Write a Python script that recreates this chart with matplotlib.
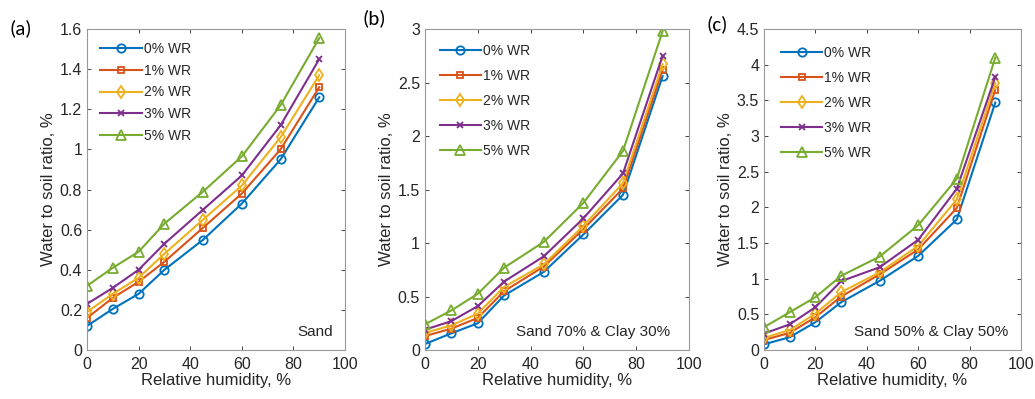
import matplotlib
matplotlib.use("Agg")
import matplotlib.pyplot as plt

# relative humidity points
rh = [0, 10, 20, 30, 45, 60, 75, 90]
labels = ["0% WR", "1% WR", "2% WR", "3% WR", "5% WR"]

# (a) Sand
sand = [
    [0.12, 0.205, 0.28, 0.40, 0.55, 0.73, 0.95, 1.26],
    [0.16, 0.26, 0.34, 0.44, 0.61, 0.78, 1.00, 1.31],
    [0.19, 0.28, 0.36, 0.48, 0.65, 0.82, 1.06, 1.37],
    [0.23, 0.31, 0.40, 0.53, 0.70, 0.87, 1.12, 1.45],
    [0.32, 0.41, 0.49, 0.63, 0.79, 0.965, 1.22, 1.555],
]
# (b) Sand 70% & Clay 30%
sand70 = [
    [0.056, 0.156, 0.25, 0.51, 0.73, 1.08, 1.45, 2.56],
    [0.13, 0.20, 0.30, 0.55, 0.78, 1.13, 1.51, 2.62],
    [0.16, 0.23, 0.34, 0.59, 0.80, 1.16, 1.56, 2.67],
    [0.19, 0.27, 0.41, 0.64, 0.875, 1.23, 1.65, 2.75],
    [0.24, 0.37, 0.525, 0.77, 1.01, 1.375, 1.86, 2.98],
]
# (c) Sand 50% & Clay 50%
sand50 = [
    [0.08, 0.18, 0.39, 0.67, 0.97, 1.32, 1.83, 3.47],
    [0.14, 0.24, 0.46, 0.75, 1.06, 1.41, 1.99, 3.65],
    [0.17, 0.28, 0.51, 0.81, 1.09, 1.46, 2.11, 3.74],
    [0.23, 0.36, 0.60, 0.965, 1.16, 1.545, 2.26, 3.83],
    [0.32, 0.53, 0.74, 1.04, 1.31, 1.75, 2.40, 4.10],
]

colors = ["#0072BD", "#D95319", "#EDB120", "#7E2F8E", "#77AC30"]
markers = ["o", "s", "d", "x", "^"]
msizes = [6, 5, 6, 5, 7]

plt.rcParams["font.family"] = ["Liberation Sans", "DejaVu Sans"]

fig = plt.figure(figsize=(10.35, 3.99), dpi=100)

panels = [
    # data, axes rect, ylim, yticks, yticklabels, note, note x, letter, letter pos, legend spacing, legend pad
    (sand, [0.0841, 0.1228, 0.2493, 0.8045], 1.6,
     [0, 0.2, 0.4, 0.6, 0.8, 1, 1.2, 1.4, 1.6],
     ["0", "0.2", "0.4", "0.6", "0.8", "1", "1.2", "1.4", "1.6"],
     "Sand", 0.955, "(a)", (0.009, 0.93), 0.55, 0.55),
    (sand70, [0.4106, 0.1228, 0.2551, 0.8045], 3,
     [0, 0.5, 1, 1.5, 2, 2.5, 3],
     ["0", "0.5", "1", "1.5", "2", "2.5", "3"],
     "Sand 70% & Clay 30%", 0.93, "(b)", (0.350, 0.955), 0.8, 0.65),
    (sand50, [0.7382, 0.1228, 0.2483, 0.8045], 4.5,
     [0, 0.5, 1, 1.5, 2, 2.5, 3, 3.5, 4, 4.5],
     ["0", "0.5", "1", "1.5", "2", "2.5", "3", "3.5", "4", "4.5"],
     "Sand 50% & Clay 50%", 0.95, "(c)", (0.683, 0.94), 0.8, 0.8),
]

for data, rect, ymax, yt, ytl, note, nx, letter, lpos, lspace, lpad in panels:
    ax = fig.add_axes(rect)
    for i in range(5):
        ax.plot(rh, data[i], color=colors[i], marker=markers[i], markersize=msizes[i],
                markerfacecolor="none", markeredgewidth=1.3, linewidth=1.5, label=labels[i])
    ax.set_xlim(0, 100)
    ax.set_ylim(0, ymax)
    ax.set_xticks([0, 20, 40, 60, 80, 100])
    ax.set_yticks(yt)
    ax.set_yticklabels(ytl)
    ax.tick_params(direction="in", length=3, width=0.6, colors="#262626",
                   labelsize=11.5, top=True, right=True, labeltop=False, labelright=False)
    ax.tick_params(axis="x", pad=5)
    for s in ax.spines.values():
        s.set_color("#999999")
        s.set_linewidth(0.8)
    ax.set_xlabel("Relative humidity, %", fontsize=12, color="#262626", labelpad=1)
    ax.set_ylabel("Water to soil ratio, %", fontsize=12, color="#262626", labelpad=3)
    ax.legend(loc="upper left", frameon=False, fontsize=10, handlelength=3.0,
              handletextpad=0.15, labelspacing=lspace, borderaxespad=lpad,
              labelcolor="#262626")
    ax.text(nx, 0.055, note, transform=ax.transAxes, ha="right", va="center",
            fontsize=11, color="#262626")
    fig.text(lpos[0], lpos[1], letter, fontsize=15, ha="left", va="center",
             family=["Carlito", "DejaVu Sans"])

fig.savefig("out.png", dpi=100)
